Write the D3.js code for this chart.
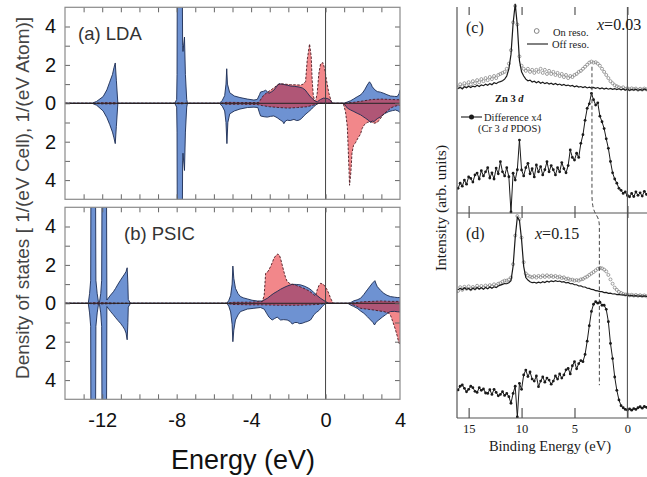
<!DOCTYPE html>
<html><head><meta charset="utf-8">
<script src="https://cdn.jsdelivr.net/npm/d3@7"></script>
<style>body{margin:0;background:#fff}svg{display:block}</style>
</head><body>
<svg id="c" width="647" height="477"></svg>
<script>
// ---------------- DOS data (energy eV, states) ----------------
const ldaBlueUp = [[-14,0],[-12.55,0],[-12.3,0.1],[-11.95,0.35],[-11.75,0.7],[-11.6,1.1],[-11.45,1.5],[-11.37,1.85],[-11.3,2.1],[-11.24,1.2],[-11.16,0],
[-8.1,0],[-8.0,0.2],[-7.98,1.5],[-7.96,9],[-7.71,9],[-7.68,3],[-7.66,2.7],[-7.58,3.45],[-7.53,1.5],[-7.46,0.2],[-7.42,0],
[-5.7,0],[-5.55,0.15],[-5.42,0.4],[-5.35,1.0],[-5.31,1.8],[-5.27,1.0],[-5.15,0.55],[-4.9,0.38],[-4.6,0.3],[-4.2,0.22],[-3.85,0.17],[-3.67,0.2],[-3.55,0.45],[-3.49,0.59],[-3.35,0.62],[-3.22,0.68],[-3.12,0.6],[-3.05,0.52],[-2.9,0.6],[-2.78,0.68],[-2.65,0.85],[-2.51,1.02],[-2.38,1.0],[-2.24,0.98],[-2.05,0.94],[-1.88,0.9],[-1.65,0.88],[-1.43,0.85],[-1.25,0.8],[-1.1,0.7],[-0.98,0.55],[-0.85,0.38],[-0.71,0.24],[-0.54,0.1],[-0.43,0.08],[-0.35,0.15],[-0.27,0.2],[-0.11,0.27],[0.11,0.25],[0.27,0.15],[0.38,0],
[0.98,0],[1.15,0.06],[1.34,0.13],[1.5,0.22],[1.7,0.34],[1.85,0.42],[1.97,0.52],[2.1,0.7],[2.24,0.95],[2.36,1.12],[2.45,1.0],[2.51,0.86],[2.65,0.7],[2.78,0.61],[2.95,0.58],[3.13,0.52],[3.3,0.45],[3.49,0.38],[3.7,0.36],[3.85,0.35],[3.95,0.5],[4,0.7]];
const ldaBlueDn = [[-14,0],[-12.55,0],[-12.3,0.1],[-11.95,0.4],[-11.75,0.75],[-11.6,1.1],[-11.45,1.5],[-11.37,1.8],[-11.3,2.1],[-11.24,1.2],[-11.16,0],
[-8.1,0],[-8.0,0.2],[-7.98,1.5],[-7.96,9],[-7.71,9],[-7.68,3],[-7.66,2.6],[-7.58,3.5],[-7.53,1.5],[-7.46,0.2],[-7.42,0],
[-5.7,0],[-5.55,0.15],[-5.42,0.4],[-5.35,1.0],[-5.3,2.1],[-5.25,1.0],[-5.15,0.55],[-4.9,0.4],[-4.6,0.3],[-4.2,0.22],[-3.85,0.2],[-3.64,0.22],[-3.55,0.5],[-3.49,0.66],[-3.3,0.7],[-3.13,0.72],[-2.95,0.68],[-2.78,0.66],[-2.6,0.75],[-2.42,0.88],[-2.3,0.95],[-2.24,1.06],[-2.15,0.92],[-2.06,0.88],[-1.9,0.9],[-1.7,0.84],[-1.55,0.9],[-1.43,0.88],[-1.3,0.8],[-1.17,0.66],[-1.05,0.55],[-0.9,0.43],[-0.75,0.3],[-0.63,0.17],[-0.45,0.03],[-0.38,0],
[0.98,0],[1.17,0.25],[1.35,0.35],[1.52,0.43],[1.7,0.52],[1.88,0.6],[2.0,0.68],[2.15,0.78],[2.3,0.88],[2.42,1.0],[2.5,0.92],[2.6,0.95],[2.78,0.8],[2.96,0.7],[3.15,0.55],[3.4,0.43],[3.6,0.38],[3.76,0.35],[3.9,0.4],[4,0.48]];
const ldaRedUp = [[-14,0],[-12.5,0],[-12.0,0.03],[-11.3,0.03],[-11.1,0],[-8.1,0],[-7.8,0.03],[-7.4,0],[-5.7,0],[-5.3,0.05],[-4.5,0.04],[-3.7,0.04],[-3.58,0.05],[-3.45,0.25],[-3.32,0.43],[-3.15,0.55],[-2.96,0.68],[-2.78,0.8],[-2.6,0.95],[-2.42,1.02],[-2.2,1.0],[-1.88,0.97],[-1.6,0.96],[-1.34,0.95],[-1.2,1.0],[-1.075,1.13],[-0.985,2.26],[-0.86,3.09],[-0.77,2.43],[-0.72,1.21],[-0.66,0.43],[-0.59,0.12],[-0.52,0.2],[-0.45,0.52],[-0.36,1.56],[-0.27,2.05],[-0.14,2.12],[-0.05,1.82],[0.05,1.21],[0.18,0.52],[0.31,0.09],[0.36,0],
[1.0,0],[1.5,0.05],[2.0,0.12],[2.5,0.2],[3.0,0.22],[3.5,0.2],[4,0.18]];
const ldaRedDn = [[-14,0],[-12.5,0],[-12.0,0.03],[-11.3,0.03],[-11.1,0],[-8.1,0],[-7.8,0.03],[-7.4,0],[-5.7,0],[-5.3,0.05],[-4.5,0.05],[-3.7,0.06],[-3.4,0.12],[-3.0,0.18],[-2.5,0.22],[-2.0,0.25],[-1.5,0.22],[-1.0,0.18],[-0.6,0.08],[-0.35,0],
[0.95,0],[1.07,0.43],[1.17,1.22],[1.22,2.45],[1.29,4.27],[1.36,3.6],[1.42,2.6],[1.5,2.2],[1.61,2.05],[1.75,1.8],[1.88,1.6],[1.97,1.3],[2.1,1.1],[2.24,1.0],[2.42,0.95],[2.6,1.04],[2.78,1.0],[2.96,0.78],[3.13,0.55],[3.32,0.4],[3.5,0.25],[3.67,0.17],[3.85,0.12],[4,0.1]];

const psicBlueUp = [[-14,0],[-12.75,0],[-12.68,0.5],[-12.62,1.2],[-12.6,9],[-12.37,9],[-12.34,1.2],[-12.27,0.5],[-12.2,0.05],[-12.15,0.05],[-12.08,0.5],[-12.03,1.2],[-12.0,9],[-11.78,9],[-11.75,0.17],[-11.55,0.43],[-11.4,0.6],[-11.28,0.78],[-11.15,1.0],[-11.02,1.2],[-10.9,1.38],[-10.8,1.52],[-10.72,1.65],[-10.66,1.85],[-10.62,1.0],[-10.6,0.2],[-10.48,0],
[-5.3,0],[-5.2,0.15],[-5.1,0.4],[-5.02,1.0],[-4.98,1.94],[-4.93,1.3],[-4.84,0.78],[-4.7,0.5],[-4.57,0.35],[-4.4,0.28],[-4.21,0.23],[-3.95,0.16],[-3.67,0.12],[-3.4,0.12],[-3.13,0.26],[-2.95,0.4],[-2.78,0.52],[-2.6,0.62],[-2.42,0.73],[-2.24,0.82],[-2.06,0.9],[-1.79,0.99],[-1.55,0.98],[-1.34,0.96],[-1.1,0.88],[-0.9,0.78],[-0.75,0.68],[-0.63,0.56],[-0.45,0.4],[-0.27,0.26],[0,0.09],[0.18,0],
[1.2,0],[1.34,0.03],[1.52,0.13],[1.7,0.18],[1.88,0.26],[2.05,0.45],[2.24,0.7],[2.4,0.9],[2.51,1.04],[2.65,1.18],[2.72,1.0],[2.78,0.87],[2.95,0.68],[3.13,0.52],[3.3,0.42],[3.49,0.35],[3.7,0.32],[3.85,0.3],[4,0.3]];
const psicBlueDn = [[-14,0],[-12.75,0],[-12.68,0.5],[-12.62,1.2],[-12.6,9],[-12.37,9],[-12.34,1.2],[-12.27,0.5],[-12.2,0.05],[-12.15,0.05],[-12.08,0.5],[-12.03,1.2],[-12.0,9],[-11.78,9],[-11.75,0.17],[-11.55,0.43],[-11.4,0.6],[-11.28,0.75],[-11.15,0.9],[-11.02,1.04],[-10.9,1.2],[-10.8,1.35],[-10.72,1.55],[-10.66,1.9],[-10.62,1.0],[-10.6,0.2],[-10.48,0],
[-5.3,0],[-5.2,0.15],[-5.1,0.45],[-5.02,1.1],[-4.98,2.0],[-4.93,1.4],[-4.84,0.87],[-4.7,0.6],[-4.57,0.43],[-4.2,0.3],[-3.85,0.26],[-3.5,0.22],[-3.3,0.3],[-3.15,0.55],[-3.04,0.72],[-2.87,0.87],[-2.75,0.8],[-2.6,0.72],[-2.5,0.8],[-2.42,0.87],[-2.25,0.85],[-2.06,0.87],[-1.9,0.95],[-1.79,1.08],[-1.65,1.0],[-1.52,1.0],[-1.4,1.06],[-1.25,1.04],[-1.1,0.98],[-0.98,0.95],[-0.81,0.87],[-0.72,0.75],[-0.63,0.6],[-0.5,0.48],[-0.36,0.38],[-0.18,0.17],[0,0],
[1.2,0],[1.34,0.09],[1.5,0.16],[1.7,0.26],[1.88,0.4],[2.06,0.52],[2.25,0.7],[2.42,0.87],[2.55,1.0],[2.63,1.13],[2.72,0.98],[2.86,0.87],[3.05,0.72],[3.22,0.6],[3.35,0.5],[3.49,0.43],[3.7,0.42],[3.85,0.44],[4,0.45]];
const psicRedUp = [[-14,0],[-12.8,0],[-12.5,0.03],[-11.9,0.03],[-11.5,0.02],[-10.5,0],[-5.3,0],[-5.0,0.05],[-4.0,0.06],[-3.4,0.09],[-3.3,0.4],[-3.22,1.56],[-3.1,1.65],[-2.96,1.9],[-2.85,2.15],[-2.78,2.34],[-2.66,2.5],[-2.56,2.57],[-2.48,2.5],[-2.42,2.34],[-2.33,2.0],[-2.24,1.65],[-2.15,1.35],[-2.06,1.13],[-1.92,1.03],[-1.79,0.99],[-1.55,0.92],[-1.34,0.85],[-1.1,0.75],[-0.9,0.65],[-0.75,0.55],[-0.63,0.45],[-0.54,0.38],[-0.45,0.7],[-0.36,0.92],[-0.27,1.04],[-0.15,1.0],[-0.09,0.96],[0.09,0.7],[0.2,0.45],[0.27,0.26],[0.41,0],
[1.2,0],[1.6,0.03],[2.0,0.08],[2.5,0.1],[3.0,0.12],[3.5,0.1],[4,0.1]];
const psicRedDn = [[-14,0],[-12.8,0],[-12.5,0.03],[-11.9,0.03],[-11.5,0.02],[-10.5,0],[-5.3,0],[-5.0,0.06],[-4.0,0.08],[-3.4,0.08],[-2.5,0.1],[-1.5,0.1],[-0.8,0.08],[-0.3,0.05],[0,0],
[1.2,0],[1.34,0.03],[1.6,0.12],[1.88,0.26],[2.2,0.3],[2.6,0.35],[2.9,0.4],[3.13,0.43],[3.3,0.48],[3.4,0.52],[3.5,0.65],[3.58,0.87],[3.68,1.15],[3.76,1.39],[3.85,1.7],[3.94,2.08],[4,2.1]];

const dosXTicks = [-12,-8,-4,0,4];
const dosYTicks = [-4,-2,0,2,4];

// ---------------- Photoemission data (binding energy eV, arb. units) ----------------
const bindingE = [16,15.8,15.6,15.4,15.2,15,14.8,14.6,14.4,14.2,14,13.8,13.6,13.4,13.2,13,12.8,12.6,12.4,12.2,12,11.8,11.6,11.4,11.2,11,10.8,10.6,10.4,10.2,10,9.8,9.6,9.4,9.2,9,8.8,8.6,8.4,8.2,8,7.8,7.6,7.4,7.2,7,6.8,6.6,6.4,6.2,6,5.8,5.6,5.4,5.2,5,4.8,4.6,4.4,4.2,4,3.8,3.6,3.4,3.2,3,2.8,2.6,2.4,2.2,2,1.8,1.6,1.4,1.2,1,0.8,0.6,0.4,0.2,0,-0.2,-0.4,-0.6,-0.8,-1,-1.2,-1.4,-1.6,-1.8,-2];
const cOff = [60.5,61,60.2,61.3,60.8,61.5,60.9,61.6,61.2,62,61.4,62.2,61.8,62.5,62,62.8,62.3,63.2,62.8,63.5,63.8,64.2,65,66.5,70,77,92,101.5,91,74,68.5,66.5,65,64.2,64.5,63.6,64,63.2,63.8,63,63.5,62.8,63.3,62.6,63,62.4,62.9,62.2,62.6,62,62.4,61.8,62.1,61.6,61.9,61.3,61.7,61.1,61.4,60.9,61.3,60.7,61.1,60.6,61,60.5,60.9,60.3,60.7,60.2,60.6,60.1,60.5,60,60.4,59.9,60.3,59.8,60.2,59.7,60.1,59.6,60,59.7,60.1,59.5,60,59.6,60.2,59.7,60];
const cOn = [61,62.5,61.5,63,62,63.5,62.5,64,63,64.5,63.5,65,64,65.5,64.5,66,65,66.5,65.5,67,67.5,68,68.5,70,72.5,79,92.5,100.5,91.5,76,71.5,70,69,70,68.5,69.5,68,69.5,68.5,70,68,69.5,67.5,69,67.5,68.5,67,68,66.5,67.5,66,67,65.5,66.5,66,67,67.5,68.5,69,70,71,72,73,73.5,73,73.2,72.5,71.5,70,68.5,67,65.5,64,63,62,61.5,61,60.5,61,60.2,60.6,60,60.5,60.1,60.4,59.8,60.3,59.9,60.4,60,60.3];
const cDiff = [12,14.5,13,16,14,17.5,16.8,15,18.5,19.4,16.5,20.5,18,20,22,17,19.5,16.5,21.8,19,24.9,20,18,22,17.6,0.5,19.3,16,21,35.4,20.9,18,22,24.1,19,21.5,17.5,23.3,20,22.5,18.5,21,24.9,20,23,21,18.5,22,20,24.5,21.5,19.5,23,30.6,27,25.7,29,27,33.8,38,45,50.8,53,58.1,55,52.4,53.5,47,44.3,41,36,31.4,25,19.5,16.5,14.5,12,11,9.5,10.2,8.5,7.9,9.5,8,10.3,8.6,9.8,8.2,10.5,9,11];
const dOff = [62.5,63.3,62.6,63.5,62.8,63.2,62.4,63.4,62.7,63.6,62.9,63.5,62.8,63.7,63,63.9,63.3,64,63.6,64.4,64.8,65.2,65.6,65.5,66,67,74,88,98,96.5,87,74,68.5,67.3,66.5,66,66.2,65.8,66.3,65.9,66.5,66.1,66.7,66.3,66.9,66.5,67,66.6,66.8,66.3,66.5,65.9,66.1,65.5,65.6,65,65,64.4,64.5,63.9,63.9,63.3,63.2,62.7,62.6,62.1,62,61.6,61.6,61.2,61.3,60.8,60.9,60.5,60.6,60.2,60.3,60,60.1,59.8,60,59.6,59.8,59.5,59.7,59.4,59.6,59.3,59.6,59.3,59.5];
const dOn = [62,63.8,62.5,64,63,64.2,62.8,63.9,63.2,64.5,63.4,64.4,63.6,64.6,63.9,64.8,64.2,65.2,64.6,65.5,65.8,66.5,67,67,67.5,68.5,75,89,98.5,97,88,76,70.5,69.5,69,68.6,69.2,68.5,69.3,68.7,69.5,68.8,69.6,68.9,69.4,68.8,69.3,68.6,69,68.3,68.6,67.8,68,67.4,67.5,67,67.3,67,67.6,67.8,68.5,69,69.8,70.5,71.2,72,72.8,73.2,73,72.4,71.5,69.8,67.6,65.5,63.6,62.5,61.5,61,60.5,60.2,60.3,59.8,60.1,59.7,60,59.6,59.9,59.5,59.8,59.4,59.7];
const dDiff = [13.7,15.5,16.1,14.5,12.8,14,15.5,14.8,13,12.5,14.8,13.5,14.2,12.2,12,13.8,11.5,14,12.5,10.8,11.5,12.8,11,12,10.4,7.2,12,15.5,0.5,16.9,14,21,23.4,20.2,22.5,19,18,20.5,15.3,18,20,17.5,19.5,18.5,16.5,18,20.5,19,21.5,19.5,21,23.5,24.2,21.5,25.5,27.5,24,26.5,28,27.5,31,37.5,45,52,55.5,56.7,56,56.5,55,55,53,47,36.4,29,20,13.5,8.8,6,5,4.2,3.9,4.5,3.8,4.6,4.2,5,5.5,4.8,5.6,5.2,6];
const bindTicks = [15,10,5,0];
// peak guide (binding energy, intensity) for the dashed line
const cGuide = {E: 3.35, from: 71, to: 9.5};
const dGuide = {E: 2.65, from: 93, to: 16};

// ---------------- drawing ----------------
const svg = d3.select('#c');
const BLUE = '#6e92d2', BLUE_LINE = '#1b2b52', RED = '#e8242a', RED_LINE = '#4a1a22';
const SANS = '"Liberation Sans", Arial, Helvetica, sans-serif';
const SERIF = '"Liberation Serif", "Times New Roman", serif';

const xDos = d3.scaleLinear().domain([-14, 4]).range([65, 400]);
const dosPanels = [
  {key:'a', label:'(a) LDA', lx:78, ly:40, top:7.3, bottom:199.3, bu:ldaBlueUp, bd:ldaBlueDn, ru:ldaRedUp, rd:ldaRedDn, xlab:false},
  {key:'b', label:'(b) PSIC', lx:124, ly:240, top:207.3, bottom:399.3, bu:psicBlueUp, bd:psicBlueDn, ru:psicRedUp, rd:psicRedDn, xlab:true}
];

dosPanels.forEach(p => {
  const y = d3.scaleLinear().domain([-5, 5]).range([p.bottom, p.top]);
  const [x0, x1] = xDos.range();
  svg.append('clipPath').attr('id', 'clip' + p.key)
    .append('rect').attr('x', x0).attr('y', p.top).attr('width', x1 - x0).attr('height', p.bottom - p.top);
  const g = svg.append('g').attr('clip-path', `url(#clip${p.key})`);
  const area = s => d3.area().x(d => xDos(d[0])).y0(y(0)).y1(d => y(s * d[1]));
  const line = s => d3.line().x(d => xDos(d[0])).y(d => y(s * d[1]));
  g.append('path').datum(p.bu).attr('d', area(1)).attr('fill', BLUE);
  g.append('path').datum(p.bd).attr('d', area(-1)).attr('fill', BLUE);
  g.append('path').datum(p.ru).attr('d', area(1)).attr('fill', RED).attr('fill-opacity', 0.55);
  g.append('path').datum(p.rd).attr('d', area(-1)).attr('fill', RED).attr('fill-opacity', 0.55);
  g.append('path').datum(p.bu).attr('d', line(1)).attr('fill', 'none').attr('stroke', BLUE_LINE).attr('stroke-width', 0.9);
  g.append('path').datum(p.bd).attr('d', line(-1)).attr('fill', 'none').attr('stroke', BLUE_LINE).attr('stroke-width', 0.9);
  g.append('path').datum(p.ru).attr('d', line(1)).attr('fill', 'none').attr('stroke', RED_LINE).attr('stroke-width', 0.9).attr('stroke-dasharray', '2.5,1.5');
  g.append('path').datum(p.rd).attr('d', line(-1)).attr('fill', 'none').attr('stroke', RED_LINE).attr('stroke-width', 0.9).attr('stroke-dasharray', '2.5,1.5');
  // zero lines
  svg.append('line').attr('x1', x0).attr('x2', x1).attr('y1', y(0)).attr('y2', y(0)).attr('stroke', '#222').attr('stroke-width', 1);
  svg.append('line').attr('x1', xDos(0)).attr('x2', xDos(0)).attr('y1', p.top).attr('y2', p.bottom).attr('stroke', '#444').attr('stroke-width', 1);
  // axes (ticks inside)
  const minorX = d3.range(-13, 4, 1);
  const minorY = d3.range(-4, 5, 1);
  const styleAxis = a => { a.select('.domain').remove(); a.selectAll('line').attr('stroke', '#666'); };
  svg.append('g').attr('transform', `translate(0,${p.top})`).call(d3.axisTop(xDos).tickValues(minorX).tickSize(-5).tickFormat('')).call(styleAxis);
  svg.append('g').attr('transform', `translate(0,${p.bottom})`).call(d3.axisBottom(xDos).tickValues(minorX).tickSize(-5).tickFormat('')).call(styleAxis);
  svg.append('g').attr('transform', `translate(${x1},0)`).call(d3.axisRight(y).tickValues(minorY).tickSize(-5).tickFormat('')).call(styleAxis);
  svg.append('g').attr('transform', `translate(${x0},0)`).call(d3.axisLeft(y).tickValues(minorY).tickSize(-5).tickFormat('')).call(styleAxis);
  // y labels
  const yl = svg.append('g').attr('transform', `translate(${x0},0)`)
    .call(d3.axisLeft(y).tickValues(dosYTicks).tickSize(0).tickPadding(9).tickFormat(d => String(Math.abs(d))));
  yl.select('.domain').remove();
  yl.selectAll('text').attr('font-family', SANS).attr('font-size', 20).attr('fill', '#111');
  if (p.xlab) {
    const xl = svg.append('g').attr('transform', `translate(0,${p.bottom})`)
      .call(d3.axisBottom(xDos).tickValues(dosXTicks).tickSize(0).tickPadding(14).tickFormat(d => String(d)));
    xl.select('.domain').remove();
    xl.selectAll('text').attr('font-family', SANS).attr('font-size', 20).attr('fill', '#111');
  }
  // frame
  svg.append('rect').attr('x', x0).attr('y', p.top).attr('width', x1 - x0).attr('height', p.bottom - p.top)
    .attr('fill', 'none').attr('stroke', '#8a8a8a').attr('stroke-width', 1.2);
  svg.append('text').attr('x', p.lx).attr('y', p.ly).text(p.label)
    .attr('font-family', SANS).attr('font-size', 18.5).attr('fill', '#333');
});

svg.append('text').attr('x', 243).attr('y', 469).attr('text-anchor', 'middle').text('Energy (eV)')
  .attr('font-family', SANS).attr('font-size', 27).attr('fill', '#111');
svg.append('text').attr('transform', 'translate(29,198) rotate(-90)').attr('text-anchor', 'middle')
  .text('Density of states [ 1/(eV Cell), 1/(eV Atom)]')
  .attr('font-family', SANS).attr('font-size', 19).attr('fill', '#444');

// ---------------- right: photoemission ----------------
const xr = d3.scaleLinear().domain([16.1, -1.85]).range([457, 647]);
const yC = d3.scaleLinear().domain([0, 100]).range([213, 7]);
const yD = d3.scaleLinear().domain([0, 100]).range([418, 213]);
const INK = '#1a1a1a';

svg.append('clipPath').attr('id', 'clipR').append('rect').attr('x', 457).attr('y', 0).attr('width', 190).attr('height', 418);
const gr = svg.append('g').attr('clip-path', 'url(#clipR)');

function spectrum(ys, onArr, offArr, diffArr) {
  const on = bindingE.map((e, i) => [e, onArr[i]]);
  const off = bindingE.map((e, i) => [e, offArr[i]]);
  const dif = bindingE.map((e, i) => [e, diffArr[i]]);
  const ln = d3.line().x(d => xr(d[0])).y(d => ys(d[1]));
  gr.append('g').selectAll('circle').data(on).join('circle')
    .attr('cx', d => xr(d[0])).attr('cy', d => ys(d[1])).attr('r', 1.5)
    .attr('fill', 'none').attr('stroke', '#7a7a7a').attr('stroke-width', 0.7);
  gr.append('path').datum(off).attr('d', ln).attr('fill', 'none').attr('stroke', INK).attr('stroke-width', 1.2);
  gr.append('path').datum(dif).attr('d', ln).attr('fill', 'none').attr('stroke', INK).attr('stroke-width', 1);
  gr.append('g').selectAll('circle').data(dif).join('circle')
    .attr('cx', d => xr(d[0])).attr('cy', d => ys(d[1])).attr('r', 1.4).attr('fill', INK);
}
spectrum(yC, cOn, cOff, cDiff);
spectrum(yD, dOn, dOff, dDiff);

// dashed guide
const gp = d3.path();
gp.moveTo(xr(cGuide.E), yC(cGuide.from));
gp.lineTo(xr(cGuide.E), yC(cGuide.to));
gp.bezierCurveTo(xr(cGuide.E), yC(0) + 6, xr(dGuide.E), yD(100) - 2, xr(dGuide.E), yD(dGuide.from));
gp.lineTo(xr(dGuide.E), yD(dGuide.to));
gr.append('path').attr('d', gp.toString()).attr('fill', 'none').attr('stroke', '#333').attr('stroke-width', 0.9).attr('stroke-dasharray', '4,2.5');

// frame lines & ticks
const FR = '#555';
svg.append('line').attr('x1', 457).attr('x2', 457).attr('y1', 7).attr('y2', 418).attr('stroke', FR).attr('stroke-width', 1.2);
svg.append('line').attr('x1', xr(0)).attr('x2', xr(0)).attr('y1', 7).attr('y2', 418).attr('stroke', FR).attr('stroke-width', 1.1);
svg.append('line').attr('x1', 457).attr('x2', 647).attr('y1', 213).attr('y2', 213).attr('stroke', FR).attr('stroke-width', 1.2);
svg.append('line').attr('x1', 457).attr('x2', 647).attr('y1', 418).attr('y2', 418).attr('stroke', FR).attr('stroke-width', 1.2);
const rTick = (yPos, size, axisFn) => {
  const a = svg.append('g').attr('transform', `translate(0,${yPos})`)
    .call(axisFn(xr).tickValues(bindTicks).tickSize(size).tickFormat(''));
  a.select('.domain').remove();
  a.selectAll('line').attr('stroke', FR).attr('stroke-width', 1.2);
};
rTick(7, -8, d3.axisTop);
rTick(213, -7, d3.axisBottom);
rTick(213, -5, d3.axisTop);
rTick(418, -10, d3.axisBottom);
const bl = svg.append('g').attr('transform', 'translate(0,418)')
  .call(d3.axisBottom(xr).tickValues(bindTicks).tickSize(0).tickPadding(6).tickFormat(d => String(d)));
bl.select('.domain').remove();
bl.selectAll('text').attr('font-family', SERIF).attr('font-size', 12.5).attr('fill', INK);

// texts right
const T = (x, y, size, parts, opts = {}) => {
  const t = svg.append('text').attr('x', x).attr('y', y).attr('font-family', SERIF).attr('font-size', size).attr('fill', INK);
  if (opts.anchor) t.attr('text-anchor', opts.anchor);
  if (opts.weight) t.attr('font-weight', opts.weight);
  parts.forEach(pt => {
    const s = t.append('tspan').text(pt.t);
    if (pt.i) s.attr('font-style', 'italic');
  });
  return t;
};
T(466, 33, 16, [{t:'(c)'}]);
T(597, 29.5, 16, [{t:'x', i:true}, {t:'=0.03'}]);
svg.append('circle').attr('cx', 536.7).attr('cy', 31).attr('r', 2.4).attr('fill', 'none').attr('stroke', '#777').attr('stroke-width', 0.9);
T(553, 35.5, 10.5, [{t:'On reso.'}]);
svg.append('line').attr('x1', 527).attr('x2', 548).attr('y1', 44).attr('y2', 44).attr('stroke', INK).attr('stroke-width', 1.1);
T(552, 47.5, 10.5, [{t:'Off reso.'}]);
T(495, 101.5, 10.5, [{t:'Zn 3 '}, {t:'d', i:true}], {weight:'bold'});
svg.append('line').attr('x1', 461).attr('x2', 482).attr('y1', 117).attr('y2', 117).attr('stroke', INK).attr('stroke-width', 1.1);
svg.append('circle').attr('cx', 471.5).attr('cy', 117).attr('r', 2.5).attr('fill', INK);
T(484, 120.5, 10.5, [{t:'Difference x4'}]);
T(478, 132, 10.5, [{t:'(Cr 3  '}, {t:'d', i:true}, {t:' PDOS)'}]);
T(466, 239, 16, [{t:'(d)'}]);
T(535, 239, 16, [{t:'x', i:true}, {t:'=0.15'}]);
T(550, 451, 14.5, [{t:'Binding Energy (eV)'}], {anchor:'middle'});
svg.append('text').attr('transform', 'translate(446,208) rotate(-90)').attr('text-anchor', 'middle')
  .attr('font-family', SERIF).attr('font-size', 15.5).attr('fill', INK).text('Intensity (arb. units)');
</script>
</body></html>
